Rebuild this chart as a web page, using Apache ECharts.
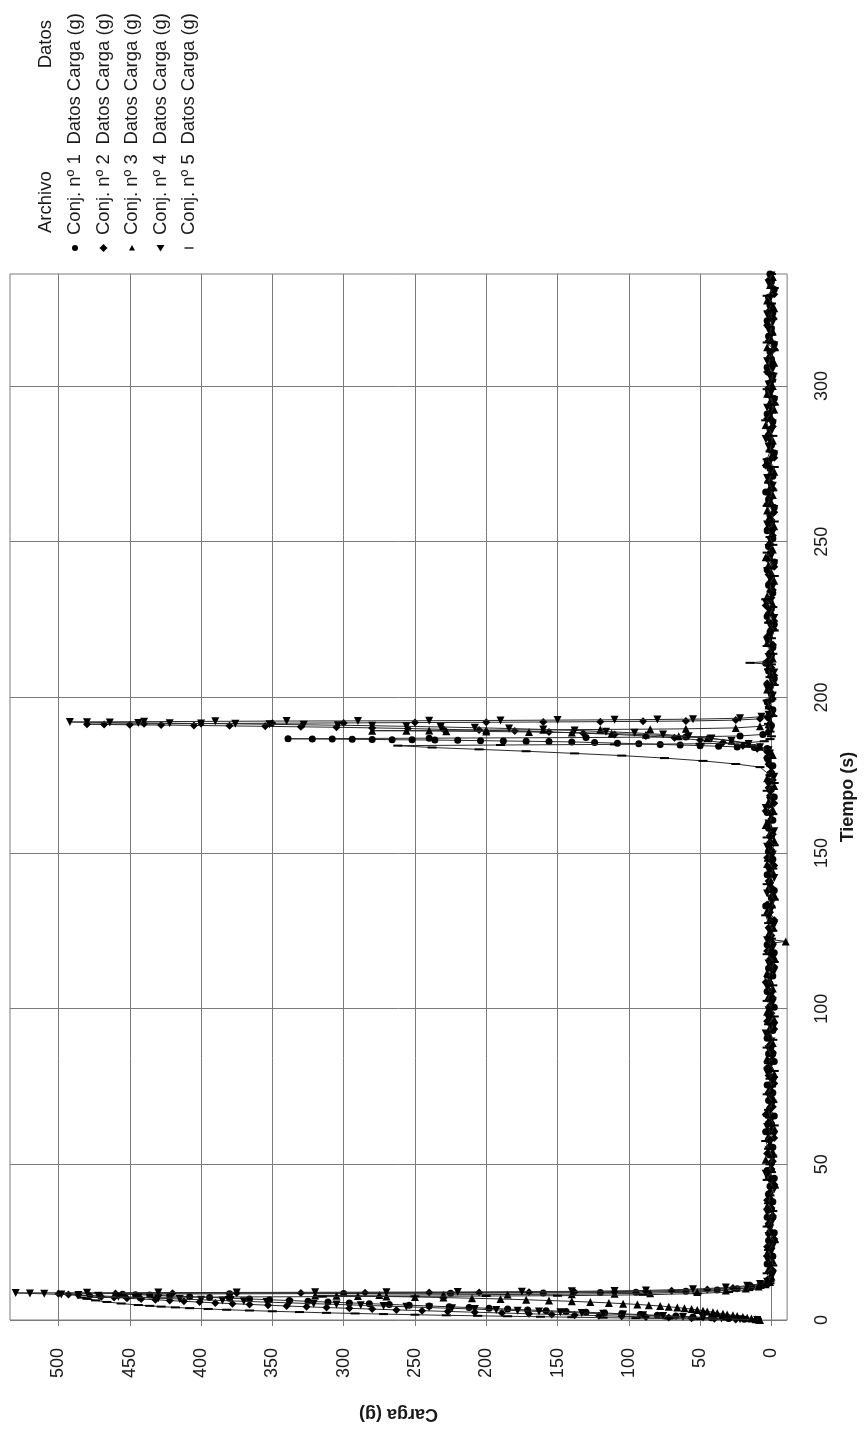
<!DOCTYPE html>
<html>
<head>
<meta charset="utf-8">
<script src="https://cdn.jsdelivr.net/npm/echarts@6.0.0/dist/echarts.min.js"></script>
<style>
html,body{margin:0;padding:0;background:#fff;}
#main{width:865px;height:1436px;}
</style>
</head>
<body>
<div id="main"></div>
<script>
// ---- tick labels ----
const cargaTicks = [0, 50, 100, 150, 200, 250, 300, 350, 400, 450, 500];
const tiempoTicks = [0, 50, 100, 150, 200, 250, 300];

// ---- legend ----
const archivoNames = ['Conj. nº 1', 'Conj. nº 2', 'Conj. nº 3', 'Conj. nº 4', 'Conj. nº 5'];
const datosName = 'Datos Carga (g)';

// ---- series values: [Tiempo (s), Carga (g)] ----
// Conj. nº 1
const c1Peak1 = [[0,9],[0.25,19],[0.5,30],[0.75,42],[1,55],[1.25,67],[1.5,80],[1.75,92],[2,105],[2.25,117],[2.5,130],[2.75,144],[3,158],[3.25,171],[3.5,185],[3.75,198],[4,212],[4.25,226],[4.5,240],[4.75,254],[5,268],[5.25,282],[5.5,296],[5.75,311],[6,325],[6.25,338],[6.5,352],[6.75,366],[7,380],[7.25,394],[7.5,408],[7.75,422],[8,436],[8.15,446],[8.3,455],[8.4,380],[8.5,300],[8.6,225],[8.7,160],[8.8,120],[8.9,95],[9.2,60],[9.6,38],[10,24],[10.5,14],[11,8],[11.6,4],[12.3,2]];
const c1Base1 = [[13,2],[15.5,0],[18,3],[20.5,-1],[23,1],[25.5,2],[28,-2],[30.5,1],[33,3],[35.5,0],[38,-1],[40.5,2],[43,1],[45.5,-2],[48,3],[50.5,0],[53,1],[55.5,-1],[58,2],[60.5,4],[63,0],[65.5,-2],[68,1],[70.5,2],[73,-1],[75.5,3],[78,0],[80.5,1],[83,-2],[85.5,2],[88,0],[90.5,3],[93,-1],[95.5,1],[98,2],[100.5,-2],[103,0],[105.5,3],[108,1],[110.5,-1],[113,2],[115.5,0],[118,-2],[120.5,3],[123,1],[125.5,0],[128,-1],[130.5,2],[133,4],[135.5,0],[138,-2],[140.5,1],[143,3],[145.5,0],[148,-1],[150.5,2],[153,1],[155.5,0],[158,2],[160.5,-1],[163,3],[165.5,1],[168,-2],[170.5,0],[173,2],[175.5,1],[178,-1],[180.5,3]];
const c1Peak2 = [[183.6,3],[183.9,12],[184.1,24],[184.3,37],[184.5,50],[184.7,64],[184.9,78],[185.1,93],[185.3,108],[185.5,124],[185.7,140],[185.8,156],[185.9,172],[186,188],[186.1,204],[186.2,220],[186.3,236],[186.35,252],[186.4,266],[186.5,280],[186.55,294],[186.6,308],[186.65,322],[186.7,339],[186.9,240],[187.1,130],[187.3,60],[187.6,22],[188.1,6],[188.8,2],[190,1]];
const c1Base2 = [[191,0],[193.5,2],[196,-1],[198.5,3],[201,0],[203.5,1],[206,-2],[208.5,2],[211,4],[213.5,0],[216,-1],[218.5,2],[221,1],[223.5,-2],[226,3],[228.5,0],[231,1],[233.5,-1],[236,2],[238.5,0],[241,3],[243.5,-2],[246,1],[248.5,2],[251,-1],[253.5,3],[256,0],[258.5,1],[261,-2],[263.5,2],[266,4],[268.5,0],[271,-1],[273.5,1],[276,3],[278.5,-2],[281,0],[283.5,2],[286,1],[288.5,-1],[291,3],[293.5,0],[296,-2],[298.5,2],[301,1],[303.5,-1],[306,3],[308.5,0],[311,1],[313.5,-2],[316,2],[318.5,0],[321,3],[323.5,-1],[326,1],[328.5,2],[331,-2],[333.5,0],[336,1]];

// Conj. nº 2
const c2Peak1 = [[0,11],[0.2,25],[0.4,40],[0.6,56],[0.8,72],[1,88],[1.2,105],[1.4,121],[1.6,138],[1.8,154],[2,170],[2.25,189],[2.5,208],[2.75,227],[3,245],[3.25,263],[3.5,280],[3.75,296],[4,312],[4.25,326],[4.5,340],[4.75,353],[5,366],[5.25,378],[5.5,390],[5.75,401],[6,412],[6.25,422],[6.5,432],[6.75,442],[7,452],[7.25,461],[7.5,470],[7.75,478],[8,486],[8.2,493],[8.4,500],[8.5,460],[8.6,420],[8.65,375],[8.7,330],[8.75,285],[8.8,240],[8.85,205],[8.9,170],[9,138],[9.1,110],[9.25,88],[9.4,70],[9.8,45],[10.3,27],[10.9,14],[11.5,7],[12.2,3]];
const c2Base1 = [[13.5,1],[16,-1],[18.5,2],[21,0],[23.5,3],[26,-2],[28.5,1],[31,2],[33.5,-1],[36,0],[38.5,3],[41,1],[43.5,-2],[46,2],[48.5,0],[51,-1],[53.5,3],[56,1],[58.5,-2],[61,0],[63.5,2],[66,4],[68.5,-1],[71,1],[73.5,0],[76,-2],[78.5,2],[81,3],[83.5,0],[86,-1],[88.5,1],[91,2],[93.5,-2],[96,3],[98.5,0],[101,1],[103.5,-1],[106,2],[108.5,4],[111,0],[113.5,-2],[116,1],[118.5,3],[121,-1],[123.5,0],[126,2],[128.5,-2],[131,1],[133.5,3],[136,0],[138.5,-1],[141,2],[143.5,1],[146,-2],[148.5,3],[151,0],[153.5,1],[156,-1],[158.5,2],[161,0],[163.5,4],[166,-2],[168.5,1],[171,2],[173.5,-1],[176,0],[178.5,2],[181,1]];
const c2Peak2 = [[182.5,3],[183.5,10],[184.5,20],[185.5,34],[186.3,50],[187,68],[187.6,88],[188.1,110],[188.5,132],[188.9,156],[189.2,180],[189.5,205],[189.75,230],[190,255],[190.2,280],[190.4,305],[190.55,330],[190.7,355],[190.85,380],[191,405],[191.1,428],[191.2,450],[191.3,468],[191.4,480],[191.5,440],[191.6,400],[191.7,350],[191.8,300],[191.9,250],[192,200],[192.1,160],[192.2,120],[192.3,90],[192.4,60],[192.7,25],[193.1,8],[193.7,3]];
const c2Base2 = [[194.5,0],[197,2],[199.5,-1],[202,1],[204.5,3],[207,-2],[209.5,0],[212,2],[214.5,1],[217,-1],[219.5,3],[222,0],[224.5,-2],[227,2],[229.5,4],[232,0],[234.5,-1],[237,1],[239.5,2],[242,-2],[244.5,3],[247,0],[249.5,1],[252,-1],[254.5,2],[257,0],[259.5,-2],[262,3],[264.5,1],[267,-1],[269.5,2],[272,0],[274.5,4],[277,-2],[279.5,1],[282,0],[284.5,2],[287,-1],[289.5,3],[292,0],[294.5,-2],[297,1],[299.5,2],[302,-1],[304.5,3],[307,0],[309.5,1],[312,-2],[314.5,2],[317,0],[319.5,3],[322,-1],[324.5,1],[327,2],[329.5,-2],[332,0],[334.5,1]];

// Conj. nº 3
const c3Peak1 = [[0,8],[0.25,11],[0.5,14],[0.75,17],[1,20],[1.25,24],[1.5,27],[1.75,31],[2,34],[2.25,38],[2.5,41],[2.75,45],[3,48],[3.25,52],[3.5,56],[3.75,61],[4,66],[4.25,72],[4.5,78],[4.75,86],[5,94],[5.25,104],[5.5,114],[5.75,127],[6,140],[6.25,156],[6.5,172],[6.75,190],[7,210],[7.2,230],[7.4,250],[7.55,270],[7.7,290],[7.8,305],[7.9,320],[8,275],[8.1,230],[8.2,185],[8.3,140],[8.45,110],[8.6,85],[9,52],[9.5,32],[10.1,18],[10.8,9],[11.5,4],[12.2,1]];
const c3Base1 = [[14,0],[16.5,2],[19,-1],[21.5,3],[24,0],[26.5,-2],[29,1],[31.5,2],[34,-1],[36.5,3],[39,0],[41.5,1],[44,-2],[46.5,2],[49,0],[51.5,4],[54,-1],[56.5,1],[59,2],[61.5,-2],[64,0],[66.5,3],[69,1],[71.5,-1],[74,2],[76.5,0],[79,-2],[81.5,1],[84,3],[86.5,0],[89,-1],[91.5,2],[94,1],[96.5,-2],[99,3],[101.5,0],[104,2],[106.5,-1],[109,1],[111.5,3],[114,0],[116.5,-2],[119,1],[121,1],[121.6,-10],[122.2,0],[124,2],[126.5,-1],[129,1],[131.5,3],[134,0],[136.5,-2],[139,2],[141.5,1],[144,-1],[146.5,3],[149,0],[151.5,2],[154,-2],[156.5,1],[159,4],[161.5,0],[164,-1],[166.5,2],[169,1],[171.5,-2],[174,3],[176.5,0],[179,1],[181.5,-1]];
const c3Peak2 = [[183.2,2],[184.2,8],[185.2,16],[186.1,28],[186.9,45],[187.5,65],[188,88],[188.4,112],[188.7,140],[188.9,170],[189.05,200],[189.15,228],[189.25,256],[189.3,280],[189.4,240],[189.5,200],[189.6,160],[189.7,120],[189.8,85],[189.9,60],[190.2,25],[190.7,8],[191.4,2]];
const c3Base2 = [[192.5,1],[195,-1],[197.5,2],[200,0],[202.5,3],[205,-2],[207.5,1],[210,2],[212.5,-1],[215,0],[217.5,3],[220,1],[222.5,-2],[225,2],[227.5,0],[230,-1],[232.5,3],[235,1],[237.5,-2],[240,0],[242.5,2],[245,4],[247.5,-1],[250,1],[252.5,0],[255,-2],[257.5,2],[260,3],[262.5,0],[265,-1],[267.5,1],[270,2],[272.5,-2],[275,3],[277.5,0],[280,1],[282.5,-1],[285,2],[287.5,4],[290,0],[292.5,-2],[295,1],[297.5,3],[300,-1],[302.5,0],[305,2],[307.5,-2],[310,1],[312.5,3],[315,0],[317.5,-1],[320,2],[322.5,1],[325,-2],[327.5,3],[330,0],[332.5,1],[335,-1]];

// Conj. nº 4
const c4Peak1 = [[0,10],[0.25,22],[0.5,35],[0.75,48],[1,62],[1.25,76],[1.5,90],[1.75,104],[2,118],[2.25,133],[2.5,148],[2.75,163],[3,178],[3.25,193],[3.5,208],[3.75,224],[4,240],[4.25,256],[4.5,272],[4.75,288],[5,305],[5.25,321],[5.5,338],[5.75,354],[6,370],[6.25,385],[6.5,400],[6.75,415],[7,430],[7.25,444],[7.5,458],[7.75,472],[8,486],[8.2,498],[8.4,510],[8.55,520],[8.7,530],[8.75,480],[8.8,430],[8.85,375],[8.9,320],[8.95,270],[9,220],[9.1,175],[9.2,140],[9.35,110],[9.5,88],[9.9,55],[10.4,32],[11,17],[11.6,8],[12.3,3]];
const c4Base1 = [[14.5,-1],[17,1],[19.5,3],[22,0],[24.5,-2],[27,2],[29.5,1],[32,-1],[34.5,3],[37,0],[39.5,2],[42,-2],[44.5,1],[47,4],[49.5,0],[52,-1],[54.5,2],[57,1],[59.5,-2],[62,3],[64.5,0],[67,1],[69.5,-1],[72,2],[74.5,0],[77,-2],[79.5,3],[82,1],[84.5,-1],[87,2],[89.5,0],[92,4],[94.5,-2],[97,1],[99.5,2],[102,-1],[104.5,0],[107,3],[109.5,1],[112,-2],[114.5,2],[117,0],[119.5,-1],[122,3],[124.5,1],[127,-2],[129.5,2],[132,0],[134.5,-1],[137,3],[139.5,1],[142,-2],[144.5,2],[147,0],[149.5,-1],[152,3],[154.5,1],[157,-2],[159.5,2],[162,0],[164.5,4],[167,-1],[169.5,1],[172,2],[174.5,-2],[177,0],[179.5,3],[182,1]];
const c4Peak2 = [[183,2],[184,8],[185,16],[186,28],[186.8,42],[187.5,58],[188.1,76],[188.6,96],[189,116],[189.4,138],[189.7,160],[190,184],[190.25,208],[190.5,232],[190.7,256],[190.9,280],[191.05,304],[191.2,328],[191.35,352],[191.5,376],[191.6,400],[191.7,422],[191.8,444],[191.9,464],[192,480],[192.1,492],[192.2,440],[192.3,390],[192.4,340],[192.45,290],[192.5,240],[192.6,190],[192.7,150],[192.8,110],[192.9,80],[193,55],[193.3,22],[193.8,7],[194.4,2]];
const c4Base2 = [[195.5,0],[198,2],[200.5,-1],[203,3],[205.5,0],[208,-2],[210.5,1],[213,2],[215.5,-1],[218,3],[220.5,0],[223,1],[225.5,-2],[228,2],[230.5,4],[233,0],[235.5,-1],[238,1],[240.5,3],[243,-2],[245.5,0],[248,2],[250.5,1],[253,-1],[255.5,3],[258,0],[260.5,-2],[263,1],[265.5,2],[268,-1],[270.5,3],[273,0],[275.5,1],[278,-2],[280.5,2],[283,4],[285.5,0],[288,-1],[290.5,1],[293,3],[295.5,-2],[298,0],[300.5,2],[303,1],[305.5,-1],[308,3],[310.5,0],[313,-2],[315.5,1],[318,2],[320.5,-1],[323,3],[325.5,0],[328,1],[330.5,-2],[333,2],[335.5,0]];

// Conj. nº 5
const c5Peak1 = [[0,12],[0.15,31],[0.3,50],[0.45,72],[0.6,95],[0.75,118],[0.9,140],[1.05,162],[1.2,185],[1.35,206],[1.5,228],[1.7,250],[1.9,272],[2.1,292],[2.3,312],[2.55,331],[2.8,350],[3.05,366],[3.3,382],[3.55,395],[3.8,408],[4.05,418],[4.3,428],[4.55,436],[4.8,444],[5.3,456],[5.8,466],[6.3,474],[6.8,480],[7.2,484],[7.3,432],[7.4,380],[7.5,315],[7.6,250],[7.7,200],[7.8,150],[8.1,90],[8.5,52],[9,30],[9.6,16],[10.3,8],[11,4],[11.8,1]];
const c5Base1 = [[12.5,1],[15,3],[17.5,-1],[20,0],[22.5,2],[25,-2],[27.5,1],[30,3],[32.5,0],[35,-1],[37.5,2],[40,1],[42.5,-2],[45,3],[47.5,0],[50,1],[52.5,-1],[55,2],[57.5,4],[60,0],[62.5,-2],[65,1],[67.5,2],[70,-1],[72.5,3],[75,0],[77.5,1],[80,-2],[82.5,2],[85,0],[87.5,3],[90,-1],[92.5,1],[95,2],[97.5,-2],[100,0],[102.5,3],[105,1],[107.5,-1],[110,2],[112.5,0],[115,-2],[117.5,3],[120,1],[122.5,0],[125,-1],[127.5,2],[130,4],[132.5,0],[135,-2],[137.5,1],[140,3],[142.5,0],[145,-1],[147.5,2],[150,1],[152.5,-2],[155,3],[157.5,0],[160,1],[162.5,-1],[165,2],[167.5,0],[170,3],[172.5,-2],[175,1]];
const c5Peak2 = [[177.6,8],[178.6,25],[179.6,48],[180.5,75],[181.3,105],[182,138],[182.7,172],[183.3,205],[183.9,238],[184.5,262],[184.7,190],[184.9,110],[185.1,50],[185.4,18],[185.9,5],[186.6,1]];
const c5Base2 = [[187.5,0],[189,1],[191.5,2],[194,-1],[196.5,1],[199,3],[201.5,0],[204,-2],[206.5,1],[209,2],[210.6,0],[211.1,15],[211.6,1],[214,-1],[216.5,3],[219,0],[221.5,-2],[224,2],[226.5,1],[229,-1],[231.5,4],[234,0],[236.5,1],[239,-2],[241.5,2],[244,0],[246.5,3],[249,-1],[251.5,1],[254,2],[256.5,-2],[259,0],[261.5,3],[264,1],[266.5,-1],[269,2],[271.5,0],[274,-2],[276.5,3],[279,1],[281.5,0],[284,-1],[286.5,2],[289,4],[291.5,0],[294,-2],[296.5,1],[299,3],[301.5,0],[304,-1],[306.5,2],[309,1],[311.5,-2],[314,3],[316.5,0],[319,1],[321.5,-1],[324,2],[326.5,0],[329,3],[331.5,-2],[334,1],[336,0]];

const conj1 = [...c1Peak1, ...c1Base1, ...c1Peak2, ...c1Base2];
const conj2 = [...c2Peak1, ...c2Base1, ...c2Peak2, ...c2Base2];
const conj3 = [...c3Peak1, ...c3Base1, ...c3Peak2, ...c3Base2];
const conj4 = [...c4Peak1, ...c4Base1, ...c4Peak2, ...c4Base2];
const conj5 = [...c5Peak1, ...c5Base1, ...c5Peak2, ...c5Base2];

const FONT = '"Liberation Sans", Arial, sans-serif';
const INK = '#1a1a1a';
const GRID = '#7a7a7a';

const seriesData = [conj1, conj2, conj3, conj4, conj5];
const symbols = ['circle', 'diamond', 'triangle', 'path://M0,0 L10,0 L5,9 Z', 'rect'];
const symbolSizes = [7, 8, 8, 8, [9, 2]];

const chart = echarts.init(document.getElementById('main'), null, {renderer: 'canvas'});

const series = seriesData.map((d, i) => ({
  name: archivoNames[i] + ' ' + datosName,
  type: 'line',
  data: d,
  dimensions: ['tiempo', 'carga'],
  encode: {x: 'carga', y: 'tiempo'},
  symbol: symbols[i],
  symbolSize: symbolSizes[i],
  showSymbol: true,
  showAllSymbol: true,
  lineStyle: {color: '#2a2a2a', width: 1},
  itemStyle: {color: '#000'},
  emphasis: {disabled: true},
  clip: true,
  z: 3 + i
}));

// legend drawn as rotated graphic text (the whole chart is printed sideways)
const legendGraphics = [];
const LFONT = '18.5px ' + FONT;
const rowX = [75, 103.5, 132, 160.5, 189];
legendGraphics.push({type: 'text', x: 46, y: 233, rotation: Math.PI / 2,
  style: {text: 'Archivo', font: LFONT, fill: INK, textAlign: 'left', textVerticalAlign: 'middle'}});
legendGraphics.push({type: 'text', x: 46, y: 20, rotation: Math.PI / 2,
  style: {text: 'Datos', font: LFONT, fill: INK, textAlign: 'right', textVerticalAlign: 'middle'}});
archivoNames.forEach((n, i) => {
  legendGraphics.push({type: 'text', x: rowX[i], y: 235, rotation: Math.PI / 2,
    style: {text: n, font: LFONT, fill: INK, textAlign: 'left', textVerticalAlign: 'middle'}});
  legendGraphics.push({type: 'text', x: rowX[i], y: 13, rotation: Math.PI / 2,
    style: {text: datosName, font: LFONT, fill: INK, textAlign: 'right', textVerticalAlign: 'middle'}});
});
const my = 248;
legendGraphics.push({type: 'circle', shape: {cx: rowX[0], cy: my, r: 3}, style: {fill: '#000'}});
legendGraphics.push({type: 'polygon', shape: {points: [[rowX[1], my - 4], [rowX[1] + 4, my], [rowX[1], my + 4], [rowX[1] - 4, my]]}, style: {fill: '#000'}});
legendGraphics.push({type: 'polygon', shape: {points: [[rowX[2], my - 3], [rowX[2] + 3, my + 2.5], [rowX[2] - 3, my + 2.5]]}, style: {fill: '#000'}});
legendGraphics.push({type: 'polygon', shape: {points: [[rowX[3] - 4, my - 3], [rowX[3] + 4, my - 3], [rowX[3], my + 3.5]]}, style: {fill: '#000'}});
legendGraphics.push({type: 'rect', shape: {x: rowX[4] - 4.5, y: my - 0.8, width: 9, height: 1.6}, style: {fill: '#333'}});

const option = {
  animation: false,
  backgroundColor: '#ffffff',
  grid: {left: 10, right: 72, top: 274, bottom: 116, show: true, borderColor: GRID, borderWidth: 1, containLabel: false},
  xAxis: {
    type: 'value', inverse: true, min: -11, max: 534, position: 'bottom',
    name: 'Carga (g)', nameLocation: 'middle', nameRotate: 180, nameGap: 85,
    nameTextStyle: {fontFamily: FONT, fontSize: 18, fontWeight: 'bold', color: INK},
    axisLine: {show: false},
    axisTick: {show: true, customValues: cargaTicks, length: 6, lineStyle: {color: GRID}},
    axisLabel: {customValues: cargaTicks, rotate: 90, margin: 28, fontFamily: FONT, fontSize: 18, color: INK},
    splitLine: {show: true, lineStyle: {color: GRID, width: 1}}
  },
  yAxis: {
    type: 'value', min: 0, max: 336, position: 'right',
    name: 'Tiempo (s)', nameLocation: 'middle', nameRotate: 90, nameGap: 50,
    nameTextStyle: {fontFamily: FONT, fontSize: 18, fontWeight: 'bold', color: INK},
    axisLine: {show: false},
    axisTick: {show: false, customValues: tiempoTicks},
    axisLabel: {customValues: tiempoTicks, rotate: 90, margin: 26, fontFamily: FONT, fontSize: 18, color: INK},
    splitLine: {show: true, lineStyle: {color: GRID, width: 1}}
  },
  graphic: legendGraphics,
  series: series
};
chart.setOption(option);
</script>
</body>
</html>
